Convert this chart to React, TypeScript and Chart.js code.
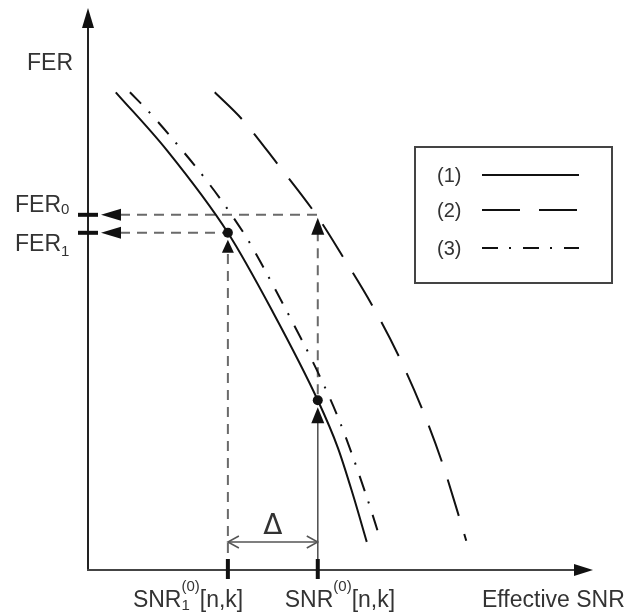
import React, { useEffect, useRef } from "react";
import { Chart, registerables } from "chart.js";

Chart.register(...registerables);

// ---- data (schematic units) ----
const SNR_RANGE = [0, 10];
const FER_RANGE = [0, 10];

const CURVE1_SNR = [0.55, 1.56, 2.77, 3.66, 4.55, 4.95, 5.25, 5.52];
const CURVE1_FER = [8.5, 7.47, 6.0, 4.59, 3.02, 2.17, 1.33, 0.5];

const CURVE2_SNR = [2.51, 3.05, 3.74, 4.55, 5.05, 5.62, 6.14, 6.61, 7.01, 7.35, 7.49];
const CURVE2_FER = [8.5, 8.02, 7.24, 6.28, 5.57, 4.72, 3.83, 2.88, 1.92, 0.94, 0.52];

const CURVE3_SNR = [0.83, 1.23, 1.76, 2.28, 2.75, 3.19, 3.47, 3.98, 4.53, 4.99, 5.52, 5.78];
const CURVE3_FER = [8.5, 8.13, 7.58, 7.01, 6.44, 5.84, 5.39, 4.53, 3.56, 2.63, 1.3, 0.57];

const SNR1 = 2.77; // SNR1^(0)[n,k]
const SNR0 = 4.55; // SNR^(0)[n,k]
const FER0 = 6.32;
const FER1 = 6.0;
const FER_CURVE1_AT_SNR0 = 3.02;

const LEGEND_LABELS = ["(1)", "(2)", "(3)"];
const AXIS_TITLE_Y = "FER";
const AXIS_TITLE_X = "Effective SNR";
const DELTA_LABEL = "Δ";

type Seg = { t: string; sub?: boolean; sup?: boolean };
const X_TICK_LABELS: Seg[][] = [
  [{ t: "SNR" }, { t: "1", sub: true }, { t: "(0)", sup: true }, { t: "[n,k]" }],
  [{ t: "SNR" }, { t: "(0)", sup: true }, { t: "[n,k]" }],
];
const Y_TICK_LABELS: Seg[][] = [
  [{ t: "FER" }, { t: "0", sub: true }],
  [{ t: "FER" }, { t: "1", sub: true }],
];

// ---- styles ----
const FONT = "'Liberation Sans', Arial, sans-serif";
const TEXT = "#333";
const INK = "#111";
const GUIDE = "#6a6a6a";
const DASH_LONG = [38, 19];
const DASH_DOT = [16, 11, 2, 12];
const GUIDE_DASH = [10, 7];

const toPts = (xs: number[], ys: number[]) => xs.map((x, i) => ({ x, y: ys[i] }));

function drawRich(ctx: CanvasRenderingContext2D, x: number, y: number, segs: Seg[], big: number, small: number, subDy: number, supDy: number) {
  let cx = x;
  let i = 0;
  ctx.textAlign = "left";
  ctx.textBaseline = "alphabetic";
  while (i < segs.length) {
    const s = segs[i];
    if (s.sub || s.sup) {
      let w = 0;
      while (i < segs.length && (segs[i].sub || segs[i].sup)) {
        const q = segs[i];
        ctx.font = `${small}px ${FONT}`;
        ctx.fillText(q.t, cx, y + (q.sub ? subDy : supDy));
        w = Math.max(w, ctx.measureText(q.t).width);
        i++;
      }
      cx += w;
    } else {
      ctx.font = `${big}px ${FONT}`;
      ctx.fillText(s.t, cx, y);
      cx += ctx.measureText(s.t).width;
      i++;
    }
  }
}

function tri(ctx: CanvasRenderingContext2D, pts: number[][]) {
  ctx.beginPath();
  ctx.moveTo(pts[0][0], pts[0][1]);
  ctx.lineTo(pts[1][0], pts[1][1]);
  ctx.lineTo(pts[2][0], pts[2][1]);
  ctx.closePath();
  ctx.fill();
}

function seg(ctx: CanvasRenderingContext2D, x1: number, y1: number, x2: number, y2: number) {
  ctx.beginPath();
  ctx.moveTo(x1, y1);
  ctx.lineTo(x2, y2);
  ctx.stroke();
}

const overlay = {
  id: "overlay",
  beforeDatasetsDraw(chart: any) {
    const { ctx, chartArea: a } = chart;
    const xs = chart.scales.x, ys = chart.scales.y;
    const xs1 = xs.getPixelForValue(SNR1), xs0 = xs.getPixelForValue(SNR0);
    const yf0 = ys.getPixelForValue(FER0), yf1 = ys.getPixelForValue(FER1);
    const yd = ys.getPixelForValue(FER_CURVE1_AT_SNR0);
    ctx.save();
    ctx.strokeStyle = GUIDE;
    ctx.lineWidth = 2;
    ctx.setLineDash(GUIDE_DASH);
    seg(ctx, a.left + 32, yf0, xs0, yf0);
    seg(ctx, a.left + 32, yf1, xs1, yf1);
    seg(ctx, xs1, a.bottom, xs1, yf1 + 18);
    seg(ctx, xs0, yd - 6, xs0, yf0 + 18);
    ctx.setLineDash([]);
    ctx.lineWidth = 1.6;
    ctx.strokeStyle = "#555";
    seg(ctx, xs0, a.bottom, xs0, yd + 20);
    // delta arrow
    const dy = a.bottom - 28;
    ctx.lineWidth = 1.5;
    seg(ctx, xs1, dy, xs0, dy);
    ctx.beginPath();
    ctx.moveTo(xs1 + 11, dy - 6); ctx.lineTo(xs1, dy); ctx.lineTo(xs1 + 11, dy + 6);
    ctx.moveTo(xs0 - 11, dy - 6); ctx.lineTo(xs0, dy); ctx.lineTo(xs0 - 11, dy + 6);
    ctx.stroke();
    ctx.restore();
  },
  afterDatasetsDraw(chart: any) {
    const { ctx, chartArea: a } = chart;
    const xs = chart.scales.x, ys = chart.scales.y;
    const xs1 = xs.getPixelForValue(SNR1), xs0 = xs.getPixelForValue(SNR0);
    const yf0 = ys.getPixelForValue(FER0), yf1 = ys.getPixelForValue(FER1);
    const yd = ys.getPixelForValue(FER_CURVE1_AT_SNR0);
    ctx.save();
    ctx.strokeStyle = "#222";
    ctx.lineWidth = 2;
    seg(ctx, a.left, a.bottom, a.left, a.top + 16);
    ctx.strokeStyle = "#444";
    seg(ctx, a.left - 1, a.bottom, a.right - 16, a.bottom);
    ctx.fillStyle = INK;
    tri(ctx, [[a.left, a.top], [a.left - 6, a.top + 20], [a.left + 6, a.top + 20]]);
    tri(ctx, [[a.right, a.bottom], [a.right - 19, a.bottom - 6], [a.right - 19, a.bottom + 6]]);
    for (const yy of [yf0, yf1]) {
      tri(ctx, [[a.left + 13, yy], [a.left + 33, yy - 6], [a.left + 33, yy + 6]]);
    }
    tri(ctx, [[xs1, yf1 + 7], [xs1 - 6, yf1 + 20], [xs1 + 6, yf1 + 20]]);
    tri(ctx, [[xs0, yd + 7], [xs0 - 6.5, yd + 23], [xs0 + 6.5, yd + 23]]);
    tri(ctx, [[xs0, yf0 + 3], [xs0 - 6.5, yf0 + 20], [xs0 + 6.5, yf0 + 20]]);
    ctx.strokeStyle = INK;
    ctx.lineWidth = 4;
    for (const yy of [yf0, yf1]) seg(ctx, a.left - 10, yy, a.left + 10, yy);
    for (const xx of [xs1, xs0]) seg(ctx, xx, a.bottom - 11, xx, a.bottom + 9);
    ctx.restore();
  },
  afterDraw(chart: any) {
    const { ctx, chartArea: a } = chart;
    const xs = chart.scales.x, ys = chart.scales.y;
    const xs1 = xs.getPixelForValue(SNR1), xs0 = xs.getPixelForValue(SNR0);
    const yf0 = ys.getPixelForValue(FER0), yf1 = ys.getPixelForValue(FER1);
    ctx.save();
    ctx.fillStyle = TEXT;
    ctx.font = `23px ${FONT}`;
    ctx.textBaseline = "alphabetic";
    ctx.textAlign = "left";
    ctx.fillText(AXIS_TITLE_Y, a.left - 61, a.top + 62);
    ctx.fillText(AXIS_TITLE_X, a.right - 111, a.bottom + 37);
    drawRich(ctx, a.left - 73, yf0 - 3, Y_TICK_LABELS[0], 23, 15, 2, 0);
    drawRich(ctx, a.left - 73, yf1 + 18, Y_TICK_LABELS[1], 23, 15, 5, 0);
    drawRich(ctx, xs1 - 95, a.bottom + 37, X_TICK_LABELS[0], 23, 15, 3, -16);
    drawRich(ctx, xs0 - 33, a.bottom + 37, X_TICK_LABELS[1], 23, 15, 3, -16);
    ctx.font = `28px 'DejaVu Sans', ${FONT}`;
    ctx.textAlign = "center";
    ctx.fillText(DELTA_LABEL, (xs1 + xs0) / 2, a.bottom - 36);
    const lx = 415, ly = 147, lw = 197, lh = 136;
    ctx.strokeStyle = "#444";
    ctx.lineWidth = 2;
    ctx.strokeRect(lx, ly, lw, lh);
    const rows = [175, 210, 248];
    const dashes = [[], DASH_LONG, DASH_DOT];
    ctx.font = `20px ${FONT}`;
    ctx.textAlign = "left";
    ctx.textBaseline = "middle";
    LEGEND_LABELS.forEach((lab, i) => {
      ctx.fillStyle = TEXT;
      ctx.fillText(lab, lx + 22, rows[i] + 1);
      ctx.strokeStyle = INK;
      ctx.lineWidth = 2.2;
      ctx.setLineDash(dashes[i]);
      seg(ctx, lx + 67, rows[i], lx + 164, rows[i]);
    });
    ctx.restore();
  },
};

export default function App() {
  const ref = useRef<HTMLCanvasElement | null>(null);
  useEffect(() => {
    if (!ref.current) return;
    const lineDs = (xs: number[], ys: number[], dash: number[]) => ({
      data: toPts(xs, ys),
      showLine: true,
      borderColor: INK,
      borderWidth: 2,
      borderDash: dash,
      borderCapStyle: "butt" as const,
      pointRadius: 0,
      cubicInterpolationMode: "monotone" as const,
      fill: false,
    });
    const chart = new Chart(ref.current, {
      type: "scatter",
      data: {
        datasets: [
          lineDs(CURVE1_SNR, CURVE1_FER, []),
          lineDs(CURVE2_SNR, CURVE2_FER, DASH_LONG),
          lineDs(CURVE3_SNR, CURVE3_FER, DASH_DOT),
          {
            data: [
              { x: SNR1, y: FER1 },
              { x: SNR0, y: FER_CURVE1_AT_SNR0 },
            ],
            pointRadius: 5,
            pointBackgroundColor: INK,
            pointBorderColor: INK,
            pointBorderWidth: 0,
            showLine: false,
          } as any,
        ],
      },
      options: {
        animation: false,
        responsive: false,
        layout: { padding: { left: 88, right: 38, top: 8, bottom: 44 } },
        plugins: { legend: { display: false }, tooltip: { enabled: false } },
        events: [],
        scales: {
          x: { type: "linear", min: SNR_RANGE[0], max: SNR_RANGE[1], display: false },
          y: { type: "linear", min: FER_RANGE[0], max: FER_RANGE[1], display: false },
        },
      },
      plugins: [overlay],
    });
    return () => chart.destroy();
  }, []);
  return (
    <div style={{ position: "absolute", left: 0, top: 0, width: 631, height: 614, background: "#fff" }}>
      <canvas ref={ref} width={631} height={614} style={{ display: "block" }} />
    </div>
  );
}
